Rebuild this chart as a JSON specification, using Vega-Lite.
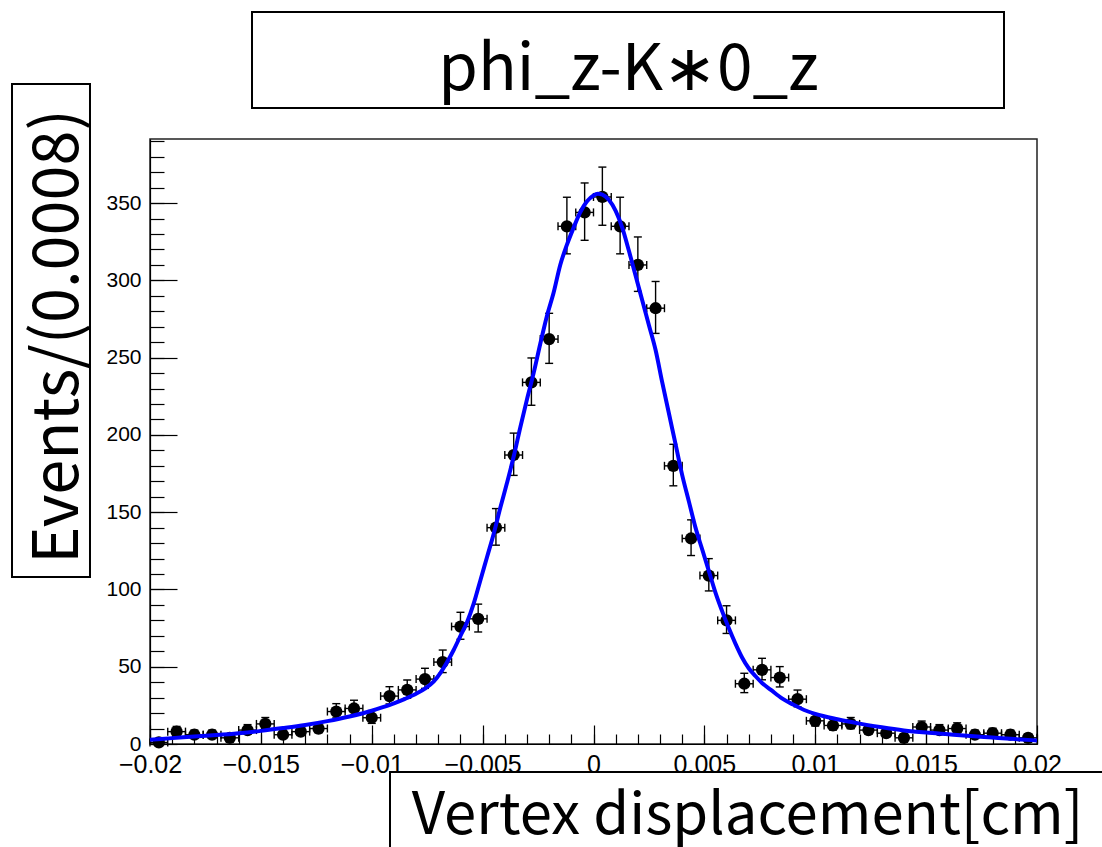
{
  "$schema": "https://vega.github.io/schema/vega-lite/v6.json",
  "width": 887,
  "height": 605,
  "autosize": {"type": "none"},
  "padding": {"left": 150, "top": 139, "right": 65, "bottom": 103},
  "background": "white",
  "config": {
    "view": {"stroke": "#222", "strokeWidth": 1.5},
    "axis": {"grid": false, "domainColor": "black", "tickColor": "black", "labelColor": "black", "titleColor": "black", "labelFont": "Liberation Sans", "labelFontSize": 22, "labelFlush": false, "labelOverlap": false, "labelBound": false, "tickWidth": 1.2, "domainWidth": 1.2}
  },
  "datasets": {
    "pts": [
      {"x":-0.0196,"x0":-0.02,"x1":-0.0192,"n":1,"lo":0.38,"hi":2.62},
      {"x":-0.0188,"x0":-0.0192,"x1":-0.0184,"n":8,"lo":5.63,"hi":11.37},
      {"x":-0.018,"x0":-0.0184,"x1":-0.0176,"n":6,"lo":4,"hi":9},
      {"x":-0.0172,"x0":-0.0176,"x1":-0.0168,"n":6,"lo":4,"hi":9},
      {"x":-0.0164,"x0":-0.0168,"x1":-0.016,"n":4,"lo":2.44,"hi":6.56},
      {"x":-0.0156,"x0":-0.016,"x1":-0.0152,"n":9,"lo":6.46,"hi":12.54},
      {"x":-0.0148,"x0":-0.0152,"x1":-0.0144,"n":13,"lo":9.86,"hi":17.14},
      {"x":-0.014,"x0":-0.0144,"x1":-0.0136,"n":6,"lo":4,"hi":9},
      {"x":-0.0132,"x0":-0.0136,"x1":-0.0128,"n":8,"lo":5.63,"hi":11.37},
      {"x":-0.0124,"x0":-0.0128,"x1":-0.012,"n":10,"lo":7.3,"hi":13.7},
      {"x":-0.0116,"x0":-0.012,"x1":-0.0112,"n":21,"lo":16.89,"hi":26.11},
      {"x":-0.0108,"x0":-0.0112,"x1":-0.0104,"n":23,"lo":18.68,"hi":28.32},
      {"x":-0.01,"x0":-0.0104,"x1":-0.0096,"n":17,"lo":13.35,"hi":21.65},
      {"x":-0.0092,"x0":-0.0096,"x1":-0.0088,"n":31,"lo":25.91,"hi":37.09},
      {"x":-0.0084,"x0":-0.0088,"x1":-0.008,"n":35,"lo":29.56,"hi":41.44},
      {"x":-0.0076,"x0":-0.008,"x1":-0.0072,"n":42,"lo":36,"hi":49},
      {"x":-0.0068,"x0":-0.0072,"x1":-0.0064,"n":53,"lo":46.2,"hi":60.8},
      {"x":-0.006,"x0":-0.0064,"x1":-0.0056,"n":76,"lo":67.77,"hi":85.23},
      {"x":-0.0052,"x0":-0.0056,"x1":-0.0048,"n":81,"lo":72.49,"hi":90.51},
      {"x":-0.0044,"x0":-0.0048,"x1":-0.004,"n":140,"lo":128.66,"hi":152.34},
      {"x":-0.0036,"x0":-0.004,"x1":-0.0032,"n":187,"lo":173.82,"hi":201.18},
      {"x":-0.0028,"x0":-0.0032,"x1":-0.0024,"n":234,"lo":219.2,"hi":249.81},
      {"x":-0.002,"x0":-0.0024,"x1":-0.0016,"n":262,"lo":246.31,"hi":278.69},
      {"x":-0.0012,"x0":-0.0016,"x1":-0.0008,"n":335,"lo":317.19,"hi":353.81},
      {"x":-0.0004,"x0":-0.0008,"x1":0.0,"n":344,"lo":325.95,"hi":363.05},
      {"x":0.0004,"x0":0.0,"x1":0.0008,"n":354,"lo":335.68,"hi":373.32},
      {"x":0.0012,"x0":0.0008,"x1":0.0016,"n":335,"lo":317.19,"hi":353.81},
      {"x":0.002,"x0":0.0016,"x1":0.0024,"n":310,"lo":292.89,"hi":328.11},
      {"x":0.0028,"x0":0.0024,"x1":0.0032,"n":282,"lo":265.7,"hi":299.3},
      {"x":0.0036,"x0":0.0032,"x1":0.004,"n":180,"lo":167.07,"hi":193.93},
      {"x":0.0044,"x0":0.004,"x1":0.0048,"n":133,"lo":121.96,"hi":145.04},
      {"x":0.0052,"x0":0.0048,"x1":0.0056,"n":109,"lo":99.05,"hi":119.95},
      {"x":0.006,"x0":0.0056,"x1":0.0064,"n":80,"lo":71.54,"hi":89.46},
      {"x":0.0068,"x0":0.0064,"x1":0.0072,"n":39,"lo":33.24,"hi":45.77},
      {"x":0.0076,"x0":0.0072,"x1":0.008,"n":48,"lo":41.55,"hi":55.45},
      {"x":0.0084,"x0":0.008,"x1":0.0088,"n":43,"lo":36.92,"hi":50.08},
      {"x":0.0092,"x0":0.0088,"x1":0.0096,"n":29,"lo":24.09,"hi":34.91},
      {"x":0.01,"x0":0.0096,"x1":0.0104,"n":15,"lo":11.59,"hi":19.41},
      {"x":0.0108,"x0":0.0104,"x1":0.0112,"n":12,"lo":9,"hi":16},
      {"x":0.0116,"x0":0.0112,"x1":0.012,"n":13,"lo":9.86,"hi":17.14},
      {"x":0.0124,"x0":0.012,"x1":0.0128,"n":9,"lo":6.46,"hi":12.54},
      {"x":0.0132,"x0":0.0128,"x1":0.0136,"n":7,"lo":4.81,"hi":10.19},
      {"x":0.014,"x0":0.0136,"x1":0.0144,"n":4,"lo":2.44,"hi":6.56},
      {"x":0.0148,"x0":0.0144,"x1":0.0152,"n":11,"lo":8.15,"hi":14.85},
      {"x":0.0156,"x0":0.0152,"x1":0.016,"n":9,"lo":6.46,"hi":12.54},
      {"x":0.0164,"x0":0.016,"x1":0.0168,"n":10,"lo":7.3,"hi":13.7},
      {"x":0.0172,"x0":0.0168,"x1":0.0176,"n":6,"lo":4,"hi":9},
      {"x":0.018,"x0":0.0176,"x1":0.0184,"n":7,"lo":4.81,"hi":10.19},
      {"x":0.0188,"x0":0.0184,"x1":0.0192,"n":6,"lo":4,"hi":9},
      {"x":0.0196,"x0":0.0192,"x1":0.02,"n":4,"lo":2.44,"hi":6.56}
    ],
    "fit": [
      {"x":-0.02,"f":2.8},{"x":-0.019,"f":3.8},{"x":-0.018,"f":4.8},{"x":-0.017,"f":5.8},
      {"x":-0.016,"f":7.0},{"x":-0.015,"f":8.5},{"x":-0.014,"f":10.3},{"x":-0.013,"f":12.3},
      {"x":-0.012,"f":14.8},{"x":-0.011,"f":17.8},{"x":-0.01,"f":21.5},{"x":-0.0095,"f":23.8},
      {"x":-0.009,"f":26.3},{"x":-0.0085,"f":29.2},{"x":-0.008,"f":32.5},{"x":-0.0076,"f":35.8},
      {"x":-0.0072,"f":40.5},{"x":-0.0069,"f":46},{"x":-0.0066,"f":53},{"x":-0.0063,"f":61},
      {"x":-0.006,"f":70},{"x":-0.0057,"f":79},{"x":-0.0054,"f":91},{"x":-0.0051,"f":106},
      {"x":-0.0048,"f":121},{"x":-0.0045,"f":136},{"x":-0.0042,"f":153},{"x":-0.0039,"f":169},
      {"x":-0.0036,"f":186},{"x":-0.0033,"f":205},{"x":-0.003,"f":223},{"x":-0.0027,"f":240},
      {"x":-0.0024,"f":259},{"x":-0.0021,"f":277},{"x":-0.0018,"f":292},{"x":-0.0015,"f":310},
      {"x":-0.0012,"f":323},{"x":-0.0009,"f":334},{"x":-0.0006,"f":344},{"x":-0.0003,"f":351},
      {"x":0.0,"f":355},{"x":0.0002,"f":356},{"x":0.0004,"f":355.5},{"x":0.0007,"f":352},
      {"x":0.001,"f":345},{"x":0.0013,"f":334},{"x":0.0016,"f":319},{"x":0.0019,"f":303},
      {"x":0.0022,"f":287},{"x":0.0025,"f":271},{"x":0.0028,"f":255},{"x":0.0031,"f":234},
      {"x":0.0034,"f":214},{"x":0.0037,"f":194},{"x":0.004,"f":174},{"x":0.0043,"f":157},
      {"x":0.0046,"f":140},{"x":0.0049,"f":126},{"x":0.0052,"f":112},{"x":0.0055,"f":98},
      {"x":0.0058,"f":86},{"x":0.0061,"f":75},{"x":0.0064,"f":65},{"x":0.0067,"f":56},
      {"x":0.007,"f":49},{"x":0.0073,"f":44},{"x":0.0076,"f":39.5},{"x":0.008,"f":35},
      {"x":0.0085,"f":29.5},{"x":0.009,"f":25.5},{"x":0.0095,"f":22},{"x":0.01,"f":19.5},
      {"x":0.011,"f":16},{"x":0.012,"f":13.2},{"x":0.013,"f":10.8},{"x":0.014,"f":8.8},
      {"x":0.015,"f":7.4},{"x":0.016,"f":6.3},{"x":0.017,"f":5.2},{"x":0.018,"f":4.2},
      {"x":0.019,"f":3.2},{"x":0.02,"f":2.3}
    ],
    "one": [{}]
  },
  "resolve": {"axis": {"x": "independent", "y": "independent"}},
  "layer": [
    {
      "data": {"name": "pts"},
      "mark": {"type": "rule", "color": "black", "strokeWidth": 1.4},
      "encoding": {
        "x": {"field": "x", "type": "quantitative", "scale": {"domain": [-0.02, 0.02], "nice": false, "zero": false}, "axis": null},
        "y": {"field": "lo", "type": "quantitative", "scale": {"domain": [0, 391.5], "nice": false}, "axis": null},
        "y2": {"field": "hi"}
      }
    },
    {
      "data": {"name": "pts"},
      "mark": {"type": "tick", "orient": "horizontal", "color": "black", "size": 8, "thickness": 1.4, "opacity": 1},
      "encoding": {
        "x": {"field": "x", "type": "quantitative", "axis": null},
        "y": {"field": "lo", "type": "quantitative", "axis": null}
      }
    },
    {
      "data": {"name": "pts"},
      "mark": {"type": "tick", "orient": "horizontal", "color": "black", "size": 8, "thickness": 1.4, "opacity": 1},
      "encoding": {
        "x": {"field": "x", "type": "quantitative", "axis": null},
        "y": {"field": "hi", "type": "quantitative", "axis": null}
      }
    },
    {
      "data": {"name": "pts"},
      "mark": {"type": "rule", "color": "black", "strokeWidth": 1.4},
      "encoding": {
        "x": {"field": "x0", "type": "quantitative", "axis": null},
        "x2": {"field": "x1"},
        "y": {"field": "n", "type": "quantitative", "axis": null}
      }
    },
    {
      "data": {"name": "pts"},
      "mark": {"type": "tick", "orient": "vertical", "color": "black", "size": 8, "thickness": 1.4, "opacity": 1},
      "encoding": {
        "x": {"field": "x0", "type": "quantitative", "axis": null},
        "y": {"field": "n", "type": "quantitative", "axis": null}
      }
    },
    {
      "data": {"name": "pts"},
      "mark": {"type": "tick", "orient": "vertical", "color": "black", "size": 8, "thickness": 1.4, "opacity": 1},
      "encoding": {
        "x": {"field": "x1", "type": "quantitative", "axis": null},
        "y": {"field": "n", "type": "quantitative", "axis": null}
      }
    },
    {
      "data": {"name": "pts"},
      "mark": {"type": "point", "shape": "circle", "filled": true, "color": "black", "size": 150, "opacity": 1},
      "encoding": {
        "x": {"field": "x", "type": "quantitative", "axis": {"orient": "bottom", "values": [-0.02,-0.019,-0.018,-0.017,-0.016,-0.015,-0.014,-0.013,-0.012,-0.011,-0.01,-0.009,-0.008,-0.007,-0.006,-0.005,-0.004,-0.003,-0.002,-0.001,0,0.001,0.002,0.003,0.004,0.005,0.006,0.007,0.008,0.009,0.01,0.011,0.012,0.013,0.014,0.015,0.016,0.017,0.018,0.019,0.02], "tickSize": -10, "labels": false, "domain": false, "title": null}},
        "y": {"field": "n", "type": "quantitative", "axis": {"orient": "left", "values": [0,10,20,30,40,50,60,70,80,90,100,110,120,130,140,150,160,170,180,190,200,210,220,230,240,250,260,270,280,290,300,310,320,330,340,350,360,370,380,390], "tickSize": -14, "labels": false, "domain": false, "title": null}}
      }
    },
    {
      "data": {"name": "fit"},
      "mark": {"type": "line", "color": "#0000ff", "strokeWidth": 4, "interpolate": "monotone"},
      "encoding": {
        "x": {"field": "x", "type": "quantitative", "axis": {"orient": "bottom", "values": [-0.02,-0.015,-0.01,-0.005,0,0.005,0.01,0.015,0.02], "format": "~g", "tickSize": -19, "labelPadding": 27, "labelFontSize": 25, "title": "Vertex displacement[cm]", "titleFont": "Noto Sans CJK JP", "titleFontSize": 58, "titleFontWeight": "normal", "titleX": 597, "titleY": 89, "titleAlign": "center", "titleBaseline": "alphabetic"}},
        "y": {"field": "f", "type": "quantitative", "axis": {"orient": "left", "values": [0,50,100,150,200,250,300,350], "tickSize": -27, "labelPadding": 36, "labelFontSize": 21, "title": "Events/(0.0008)", "titleFont": "Noto Sans CJK JP", "titleFontSize": 63, "titleFontWeight": "normal", "titleAngle": 270, "titleX": -73, "titleY": 197, "titleAlign": "center", "titleBaseline": "alphabetic"}}
      }
    },
    {
      "data": {"name": "one"},
      "mark": {"type": "rect", "filled": false, "stroke": "black", "strokeWidth": 2},
      "encoding": {
        "x": {"datum": -0.0154, "type": "quantitative", "axis": {"orient": "top", "ticks": false, "labels": false, "domain": false, "title": "phi_z-K∗0_z", "titleFont": "Noto Sans CJK JP", "titleFontSize": 64, "titleFontWeight": "normal", "titleX": 478, "titleY": -50, "titleAlign": "center", "titleBaseline": "alphabetic", "titleAngle": 0}},
        "x2": {"datum": 0.018512},
        "y": {"datum": 473.68, "type": "quantitative", "axis": null},
        "y2": {"datum": 411.56}
      }
    },
    {
      "data": {"name": "one"},
      "mark": {"type": "rect", "filled": false, "stroke": "black", "strokeWidth": 2},
      "encoding": {
        "x": {"datum": -0.026223, "type": "quantitative", "axis": null},
        "x2": {"datum": -0.022706},
        "y": {"datum": 427.1, "type": "quantitative", "axis": null},
        "y2": {"datum": 108.07}
      }
    },
    {
      "data": {"name": "one"},
      "mark": {"type": "rect", "filled": false, "stroke": "black", "strokeWidth": 2},
      "encoding": {
        "x": {"datum": -0.009177, "type": "quantitative", "axis": null},
        "x2": {"datum": 0.023743},
        "y": {"datum": -18.12, "type": "quantitative", "axis": null},
        "y2": {"datum": -81.54}
      }
    }
  ]
}
